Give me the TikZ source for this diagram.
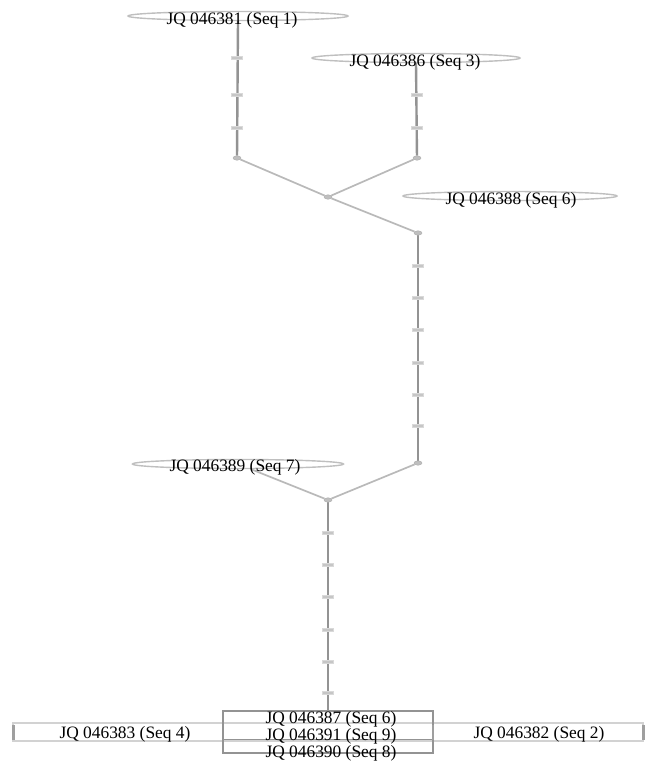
\documentclass[tikz,border=0pt]{standalone}
\usepackage{fontspec}
\setmainfont{Liberation Serif}
\usetikzlibrary{shapes.geometric,backgrounds}
\tikzset{
  hap/.style={ellipse,draw=gray!50,line width=1.4pt,minimum height=9pt,inner sep=0pt},
  lbl/.style={inner sep=0pt,font=\fontsize{17.4}{17}\selectfont,text=black},
  med/.style={ellipse,fill=gray!50,draw=gray!65,line width=0.4pt,minimum width=8pt,minimum height=4.5pt,inner sep=0pt},
  mut/.style={rectangle,fill=gray!45,draw=gray!30,line width=0.4pt,minimum width=11pt,minimum height=3pt,inner sep=0pt},
  trunk/.style={draw=gray!85,line width=2.4pt},
  branch/.style={draw=gray!55,line width=1.7pt},
  bar/.style={rectangle,draw=gray!35,line width=1.8pt,minimum height=18pt,inner sep=0pt},
  boxrow/.style={rectangle,draw=gray!85,line width=1.3pt,inner sep=0pt},
  endbar/.style={rectangle,fill=gray!75,minimum width=3pt,minimum height=15pt,inner sep=0pt}
}
\begin{document}
\begin{tikzpicture}[x=1pt,y=-1pt]
\useasboundingbox (0,0) rectangle (646,764);
% haplotype ellipses
\node[hap,minimum width=220pt] (s1) at (238,16) {};
\node[hap,minimum width=208pt] (s3) at (416,58) {};
\node[hap,minimum width=214pt] (s6) at (510,196) {};
\node[hap,minimum width=211pt] (s7) at (238,464) {};
% median vectors / intermediate nodes
\node[med] (n1) at (237,158) {};
\node[med] (n3) at (417,158) {};
\node[med] (nj) at (328,197) {};
\node[med] (n6) at (418,233) {};
\node[med] (n8) at (418,463) {};
\node[med] (n7) at (328,500) {};
% bottom bar and box
\node[bar,minimum width=630pt] (bar) at (328,732) {};
\node[boxrow,minimum width=210pt,minimum height=42pt] (box) at (328,732) {};
\node[endbar] (capl) at (13,732) {};
\node[endbar] (capr) at (643,732) {};
\node[endbar,minimum width=2.5pt] (capm) at (433,732) {};
% connectors
\begin{scope}[on background layer]
\draw[trunk] (s1.south) -- (n1);
\draw[trunk] (s3.south) -- (n3);
\draw[branch] (n1) -- (nj);
\draw[branch] (n3) -- (nj);
\draw[branch] (nj) -- (n6);
\draw[trunk] (n6) -- (n8);
\draw[branch] (n8) -- (n7);
\draw[branch] (s7) -- (n7);
\draw[trunk] (n7) -- (box.north);
\draw[boxrow] (box.west |- 0,723) -- (box.east |- 0,723);
\draw[boxrow] (box.west |- 0,740) -- (box.east |- 0,740);
\end{scope}
% mutation ticks
\foreach \y [count=\i] in {58,95,128} \node[mut] (ma\i) at (237,\y) {};
\foreach \y [count=\i] in {95,128} \node[mut] (mb\i) at (417,\y) {};
\foreach \y [count=\i] in {266,298,330,363,395,426} \node[mut] (mc\i) at (418,\y) {};
\foreach \y [count=\i] in {533,565,597,630,662,693} \node[mut] (md\i) at (328,\y) {};
% labels
\node[lbl] (t1) at (232,20) {JQ 046381 (Seq 1)};
\node[lbl] (t3) at (415,62) {JQ 046386 (Seq 3)};
\node[lbl] (t6) at (511,200) {JQ 046388 (Seq 6)};
\node[lbl] (t7) at (235,467) {JQ 046389 (Seq 7)};
\node[lbl] (t4) at (125,734) {JQ 046383 (Seq 4)};
\node[lbl] (t2) at (539,734) {JQ 046382 (Seq 2)};
\node[lbl] (tc1) at (331,719) {JQ 046387 (Seq 6)};
\node[lbl] (tc2) at (331,736) {JQ 046391 (Seq 9)};
\node[lbl] (tc3) at (331,753) {JQ 046390 (Seq 8)};
\end{tikzpicture}
\end{document}
